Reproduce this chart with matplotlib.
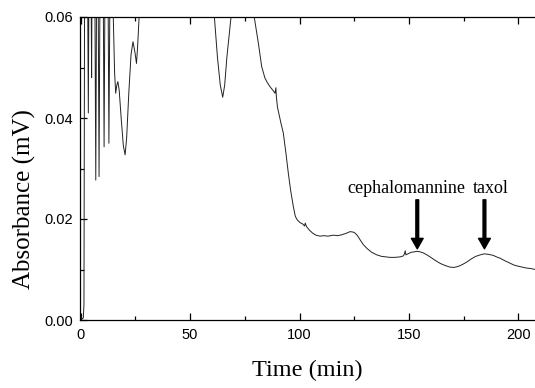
import matplotlib
matplotlib.use("Agg")
import matplotlib.pyplot as plt
from matplotlib.ticker import MultipleLocator

# chromatogram trace (values above 0.06 run off the top)
time_min = [
    0, 0.6, 1.2, 1.5, 1.9, 2.6, 3.0, 3.5, 3.9, 4.4, 5.0, 5.4, 6.1, 6.9, 7.6,
    8.4, 9.2, 10.0, 10.7, 11.4, 12.2, 12.9, 13.6, 14.3, 14.9, 15.5, 16.0,
    16.5, 17.0, 17.6, 18.5, 19.5, 20.3, 21.0, 22.0, 23.0, 23.9, 24.8, 25.5,
    26.0, 26.7, 27.5, 30, 40, 55, 59.5, 61.1, 62.5, 63.8, 64.9, 65.8, 66.8,
    68.7, 70, 75, 78, 79.3, 80.2, 81.2, 82.7, 84.2, 85.3, 86.5, 88.0, 88.8,
    89.2, 89.4, 89.9, 90.5, 91.5, 92.6, 93.8, 94.9, 96.0, 97.2, 98.1, 99.0,
    100.2, 101.5, 102.3, 102.6, 103.2, 104.5, 106, 107.5, 109.4, 111, 113,
    115.5, 117.5, 119.5, 121.5, 123.1, 124.6, 125.4, 126.5, 127.8, 129.2,
    131, 133, 135.3, 137.5, 139.5, 141.4, 143.5, 146, 147.5, 148.0, 148.3,
    148.6, 149.5, 151, 152.5, 153.6, 155, 156.5, 158.2, 160, 162, 164.3,
    166.5, 168.5, 170.4, 172.5, 174.5, 176.5, 178.5, 180.5, 182.6, 184.5,
    186.4, 188.5, 190, 191.8, 193.5, 195.5, 197.9, 199.5, 201.5, 203.5,
    205.5, 207.8,
]
absorbance = [
    0.0008, 0.0002, 0.0004, 0.003, 0.09, 0.1, 0.08, 0.041, 0.08, 0.09, 0.048,
    0.09, 0.1, 0.0277, 0.1, 0.0284, 0.1, 0.09, 0.0343, 0.09, 0.09, 0.035,
    0.08, 0.07, 0.06, 0.049, 0.0449, 0.0465, 0.0472, 0.0455, 0.04, 0.0345,
    0.0327, 0.036, 0.045, 0.0525, 0.0551, 0.053, 0.0508, 0.054, 0.06, 0.068,
    0.08, 0.09, 0.09, 0.075, 0.06, 0.052, 0.0465, 0.0441, 0.0465, 0.052,
    0.06, 0.07, 0.09, 0.07, 0.06, 0.0575, 0.0548, 0.0502, 0.0479, 0.047,
    0.0462, 0.0454, 0.0449, 0.046, 0.0443, 0.0422, 0.041, 0.039, 0.037,
    0.033, 0.029, 0.0255, 0.0224, 0.0205, 0.0198, 0.0193, 0.019, 0.0186,
    0.0192, 0.0185, 0.0178, 0.0172, 0.0168, 0.0166, 0.0167, 0.0166, 0.0168,
    0.0167, 0.0169, 0.0172, 0.0175, 0.0174, 0.0172, 0.0167, 0.0158, 0.0149,
    0.0141, 0.0134, 0.0129, 0.0126, 0.0125, 0.0124, 0.0124, 0.0125, 0.0127,
    0.0132, 0.0137, 0.0129, 0.0131, 0.0134, 0.0135, 0.0136, 0.0135, 0.0133,
    0.0129, 0.0124, 0.0118, 0.0112, 0.0108, 0.0105, 0.0104, 0.0106, 0.011,
    0.0115, 0.0121, 0.0126, 0.0129, 0.0131, 0.013, 0.0128, 0.0125, 0.0122,
    0.0118, 0.0114, 0.0109, 0.0107, 0.0105, 0.0103, 0.0102, 0.01,
]

peak_labels = ["cephalomannine", "taxol"]
label_x = [148.7, 187.5]
arrow_x = [153.8, 184.5]

plt.rcParams["font.family"] = ["Liberation Sans", "DejaVu Sans"]

fig = plt.figure(figsize=(5.35, 3.88), dpi=100)
ax = fig.add_axes([79.8 / 535, 1 - 320 / 388, 1 - 79.8 / 535, (320 - 17) / 388])

ax.plot(time_min, absorbance, color="#222222", linewidth=0.7)

ax.set_xlim(-0.4, 207.6)
ax.set_ylim(0, 0.06)
ax.xaxis.set_major_locator(MultipleLocator(50))
ax.xaxis.set_minor_locator(MultipleLocator(25))
ax.yaxis.set_major_locator(MultipleLocator(0.02))
ax.yaxis.set_minor_locator(MultipleLocator(0.01))
ax.yaxis.set_major_formatter(lambda v, p: f"{v:.2f}")

ax.tick_params(which="both", direction="in", top=True, right=False,
               labelsize=10.5, width=0.9)
ax.tick_params(which="major", length=5)
ax.tick_params(which="minor", length=3)
ax.tick_params(axis="x", pad=5.5)
ax.tick_params(axis="y", pad=5)

ax.spines["right"].set_visible(False)
for s in ("left", "bottom", "top"):
    ax.spines[s].set_linewidth(0.9)

serif = ["Liberation Serif", "DejaVu Serif"]
ax.set_xlabel("Time (min)", fontsize=17.5, family=serif, labelpad=13)
fig.text(24 / 535, 1 - 199 / 388, "Absorbance (mV)", fontsize=18,
         family=serif, rotation=90, ha="center", va="center")

for name, lx in zip(peak_labels, label_x):
    ax.text(lx, 0.02515, name, fontsize=13, family=serif,
            ha="center", va="baseline")

for xa in arrow_x:
    ax.annotate("", xy=(xa, 0.0141), xytext=(xa, 0.0238),
                arrowprops=dict(facecolor="black", edgecolor="black",
                                width=2.0, headwidth=8.5, headlength=7.5,
                                shrink=0))

fig.savefig("out.png", dpi=100, facecolor="white")
